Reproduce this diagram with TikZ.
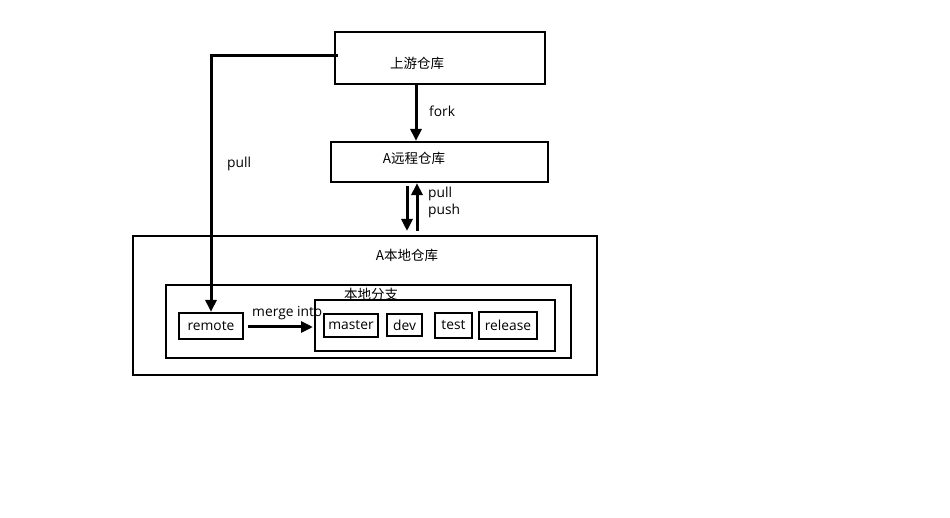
\documentclass[tikz,border=0pt]{standalone}
\usepackage{fontspec}
\setmainfont{Open Sans}
\newfontfamily\cjkf{Noto Sans CJK SC}
\usetikzlibrary{arrows.meta}
\begin{document}
\begin{tikzpicture}[x=1pt,y=-1pt,
  box/.style={draw=black,line width=2.2pt,inner sep=0pt,rectangle},
  lbl/.style={inner sep=0pt,font=\fontsize{13.8}{16}\selectfont},
  clbl/.style={inner sep=0pt,font=\cjkf\fontsize{13.5}{16}\selectfont},
  arr/.style={line width=3pt,-{Triangle[length=12pt,width=11pt]}}]
\useasboundingbox (0,0) rectangle (950,518);
% boxes
\node[box,minimum width=210pt,minimum height=52pt] (up) at (440,58) {};
\node[box,minimum width=217pt,minimum height=40pt] (rem) at (439.5,162) {};
\node[box,minimum width=464pt,minimum height=139pt] (loc) at (365,305.5) {};
\node[box,minimum width=405pt,minimum height=73pt] (br) at (368.5,321.5) {};
\node[box,minimum width=240pt,minimum height=51pt] (inner) at (435,325.5) {};
\node[box,minimum width=64pt,minimum height=26pt] (remote) at (211,326) {};
\node[box,minimum width=54pt,minimum height=23pt] (master) at (351,325.5) {};
\node[box,minimum width=35pt,minimum height=22pt] (dev) at (404.5,325) {};
\node[box,minimum width=37pt,minimum height=25pt] (test) at (453.5,325.5) {};
\node[box,minimum width=58pt,minimum height=27pt] (release) at (508,325.5) {};
% texts
\node[clbl] (tup) at (417,63) {上游仓库};
\node[clbl] (trem) at (414,158) {A远程仓库};
\node[clbl] (tloc) at (407,255) {A本地仓库};
\node[clbl] (tbr) at (371,294) {本地分支};
\node[lbl] at (remote.center) {remote};
\node[lbl] at (master.center) {master};
\node[lbl] at (dev.center) {dev};
\node[lbl] at (test.center) {test};
\node[lbl] at (release.center) {release};
\node[lbl,anchor=west] (tfork) at (429,111) {fork};
\node[lbl,anchor=west] (tpull) at (227,164) {pull};
\node[lbl,anchor=west] (tpp1) at (428,194) {pull};
\node[lbl,anchor=west] (tpp2) at (428,211) {push};
\node[lbl,anchor=west] (tmerge) at (252,313) {merge into};
% connectors
\coordinate (pullstart) at (338,56);
\coordinate (fx) at (416,0);
\coordinate (dx) at (407,0);
\coordinate (ux) at (417,0);
\coordinate (dend) at (407,231);
\coordinate (ustart) at (417,231);
\coordinate (mstart) at (248,327);
\coordinate (mend) at (313,327);
\draw[arr] (up.south -| fx) -- (rem.north -| fx);
\draw[arr] (rem.south -| dx) ++(0,3) -- (dend);
\draw[arr] (ustart) -- (rem.south -| ux);
\draw[arr] (pullstart) -| (remote.north);
\draw[arr] (mstart) -- (mend);
\end{tikzpicture}
\end{document}
